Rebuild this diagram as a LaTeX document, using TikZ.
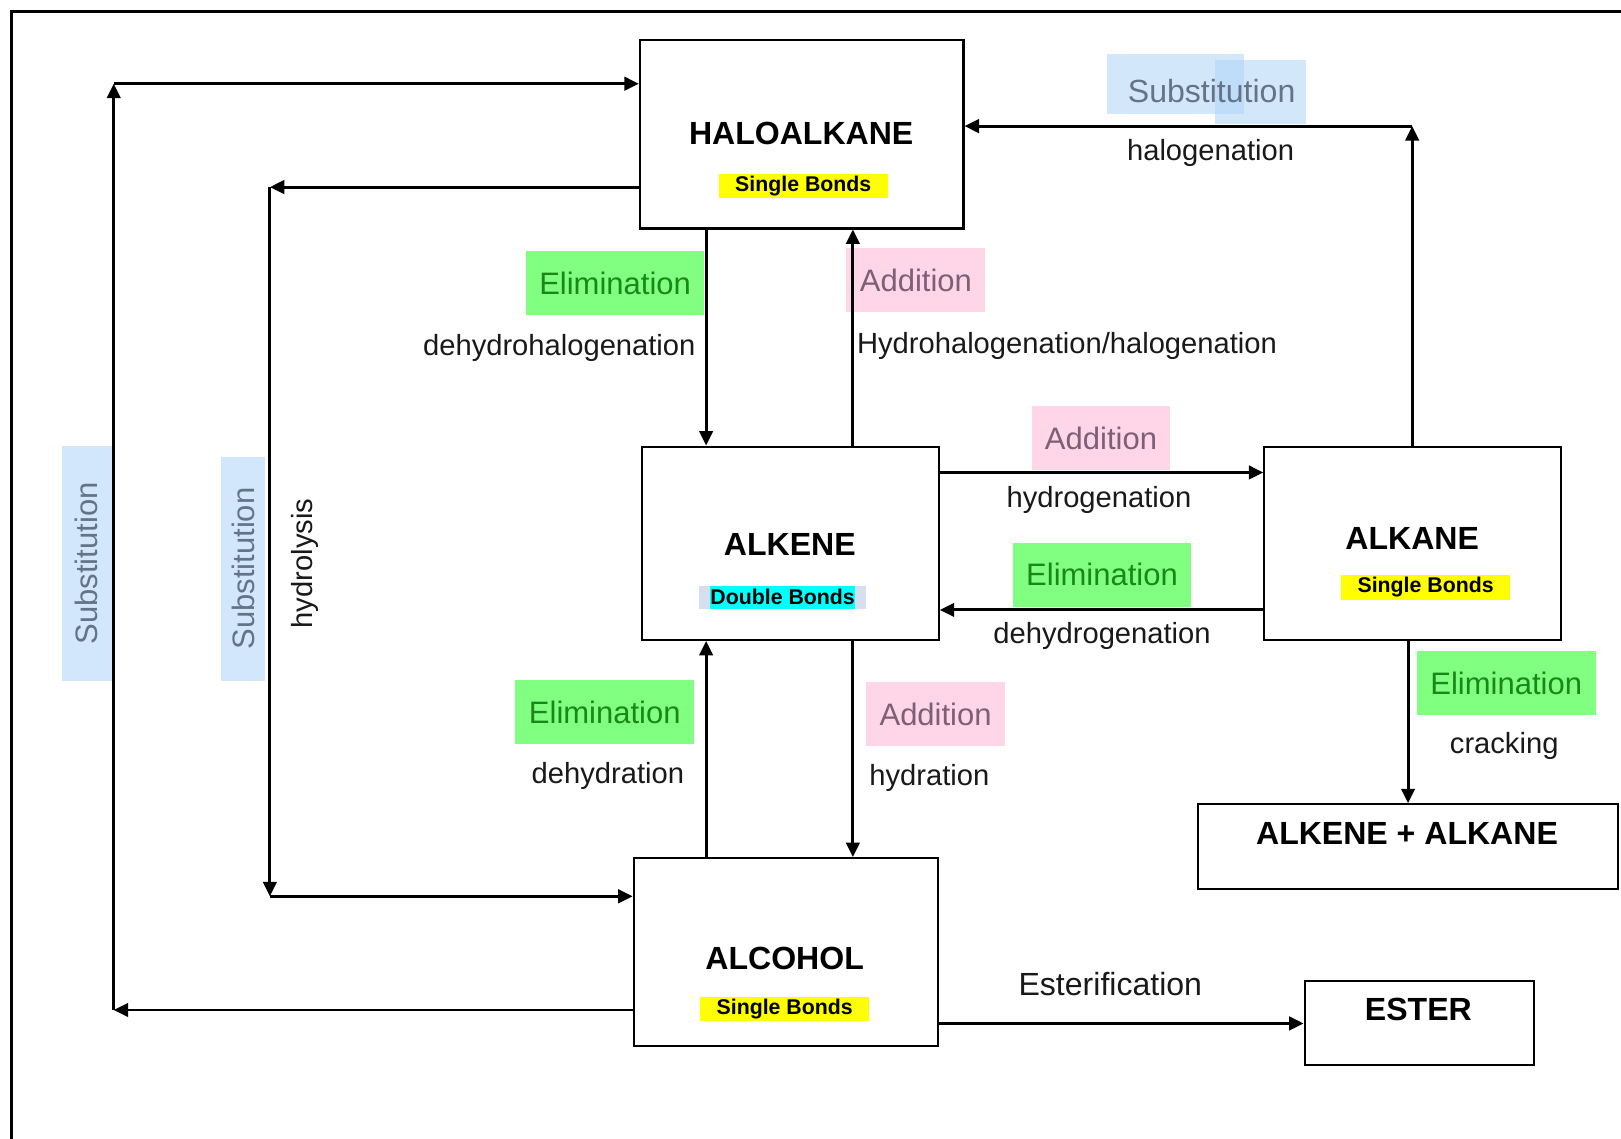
\documentclass[tikz,border=0pt]{standalone}
\usepackage{fontspec}
\setmainfont{Liberation Sans}
\usetikzlibrary{arrows.meta,positioning,backgrounds}
\definecolor{elimhl}{RGB}{128,255,128}
\definecolor{elimtx}{RGB}{25,135,25}
\definecolor{addhl}{RGB}{255,214,232}
\definecolor{addtx}{RGB}{125,95,120}
\definecolor{subhl}{RGB}{210,231,251}
\definecolor{subpen}{RGB}{174,212,248}
\definecolor{subtx}{RGB}{100,115,135}
\definecolor{bondhl}{RGB}{255,255,0}
\definecolor{dblhl}{RGB}{0,255,255}
\definecolor{dbledge}{RGB}{214,222,240}
\definecolor{ink}{RGB}{25,25,25}
\tikzset{
  >={Triangle[length=7pt,width=6.5pt]},
  arr/.style={->,line width=1.4pt,draw=black},
  box/.style={draw=black,line width=1pt},
  title/.style={font=\fontsize{15.5}{18}\selectfont\bfseries},
  bond/.style={fill=#1,font=\fontsize{10.3}{12}\selectfont\bfseries,
    inner xsep=8pt,inner ysep=0pt,minimum height=12pt},
  note/.style={font=\fontsize{14.1}{17}\selectfont,text=ink},
  hl/.style={fill=#1,font=\fontsize{15}{18}\selectfont,
    inner xsep=6.5pt,inner ysep=0pt,minimum height=31pt},
  elim/.style={hl=elimhl,text=elimtx},
  addn/.style={hl=addhl,text=addtx},
  subst/.style={hl=subhl,text=subtx},
}

\begin{document}
\begin{tikzpicture}[x=0.5pt,y=-0.5pt]
  \useasboundingbox (0,0) rectangle (1568,1101);
  \clip (0,0) rectangle (1568,1101);
  % frame round the chart
  \draw[line width=1.5pt] (11,1140) -- (11,11) -- (1620,11);

  % compound boxes
  \node[box,minimum width=156.5pt,minimum height=91pt] (halo) at (775.5,130) {};
  \node[box,minimum width=143.5pt,minimum height=93.5pt] (alkene) at (764.5,525.5) {};
  \node[box,minimum width=143.5pt,minimum height=93.5pt] (alkane) at (1366.5,525.5) {};
  \node[box,minimum width=147pt,minimum height=91pt] (alcohol) at (760,921) {};
  \node[box,minimum width=203pt,minimum height=41pt] (mix) at (1362,819) {};
  \node[box,minimum width=111pt,minimum height=40.5pt] (ester) at (1373,989.5) {};

  \node[title] (haloT) at (775,129) {HALOALKANE};
  \node[bond=bondhl] (haloB) at (777,180) {Single Bonds};
  \node[title] (alkeneT) at (764,527) {ALKENE};
  \node[bond=dbledge,inner xsep=5.5pt,minimum height=11.5pt] (alkeneB) at (757,578)
    {\setlength{\fboxsep}{0pt}\colorbox{dblhl}{\rule[-2.2pt]{0pt}{11.5pt}Double Bonds}};
  \node[title] (alkaneT) at (1366,521) {ALKANE};
  \node[bond=bondhl] (alkaneB) at (1379,568) {Single Bonds};
  \node[title] (alcoholT) at (759,927) {ALCOHOL};
  \node[bond=bondhl] (alcoholB) at (759,976) {Single Bonds};
  \node[title] (mixT) at (1361,806) {ALKENE + ALKANE};
  \node[title] (esterT) at (1372,976) {ESTER};

  % reaction names
  \node[subst,rotate=90,inner xsep=17.5pt,minimum height=24pt] (subOut) at (84,545) {Substitution};
  \node[subst,rotate=90,inner xsep=15pt,minimum height=21pt] (subIn) at (235,550) {Substitution};
  \node[note,rotate=90] (hydrol) at (295,545) {hydrolysis};

  \node[note,font=\fontsize{15.5}{18}\selectfont,text=subtx] (subTop) at (1172,88) {Substitution};
  \begin{scope}[on background layer]
    \fill[subpen,fill opacity=0.55] ([shift={(-101,-36)}]subTop.center) rectangle ([shift={(31,22)}]subTop.center);
    \fill[subpen,fill opacity=0.55] ([shift={(3,-30)}]subTop.center) rectangle ([shift={(91,32)}]subTop.center);
  \end{scope}
  \node[note] (halog) at (1171,148) {halogenation};

  \node[elim] (elimA) at (595,274) {Elimination};
  \node[note] (dehal) at (541,337) {dehydrohalogenation};
  \node[addn] (addA) at (886,271) {Addition};
  \node[note,anchor=west] (hydhal) at (822,335) {Hydrohalogenation/halogenation};

  \node[addn] (addB) at (1065,424) {Addition};
  \node[note] (hydrog) at (1063,484) {hydrogenation};
  \node[elim] (elimB) at (1066,556) {Elimination};
  \node[note] (dehyd) at (1066,615) {dehydrogenation};

  \node[elim] (elimC) at (1457,661) {Elimination};
  \node[note] (crack) at (1455,722) {cracking};

  \node[elim] (elimD) at (585,689) {Elimination};
  \node[note] (dehydr) at (588,751) {dehydration};
  \node[addn] (addC) at (905,691) {Addition};
  \node[note] (hydra) at (899,753) {hydration};

  \node[note,font=\fontsize{15.5}{18}\selectfont] (esterif) at (1074,952) {Esterification};

  % corners and lanes of the connectors
  \coordinate (subA) at (110,977);
  \coordinate (subB) at (110,81);
  \coordinate (hydA) at (261,181);
  \coordinate (hydB) at (261,867);
  \coordinate (halT) at (1366,122);
  \coordinate (lx) at (683,0);
  \coordinate (rx) at (825,0);
  \coordinate (cx) at (1362,0);
  \coordinate (hy) at (0,457);
  \coordinate (dy) at (0,590);
  \coordinate (ey) at (0,990);

  \draw[arr] (alcohol.west |- subA) -- (subA);
  \draw[arr] (subA) -- (subB);
  \draw[arr] (subB) -- (halo.west |- subB);

  \draw[arr] (halo.west |- hydA) -- (hydA);
  \draw[arr] (hydA) -- (hydB);
  \draw[arr] (hydB) -- (alcohol.west |- hydB);

  \draw[arr] (alkane.north -| halT) -- (halT);
  \draw[arr] (halT) -- (halo.east |- halT);

  \draw[arr] (halo.south -| lx) -- (alkene.north -| lx);
  \draw[arr] (alkene.north -| rx) -- (halo.south -| rx);
  \draw[arr] (alcohol.north -| lx) -- (alkene.south -| lx);
  \draw[arr] (alkene.south -| rx) -- (alcohol.north -| rx);

  \draw[arr] (alkene.east |- hy) -- (alkane.west |- hy);
  \draw[arr] (alkane.west |- dy) -- (alkene.east |- dy);
  \draw[arr] (alkane.south -| cx) -- (mix.north -| cx);
  \draw[arr] (alcohol.east |- ey) -- (ester.west |- ey);
\end{tikzpicture}
\end{document}
